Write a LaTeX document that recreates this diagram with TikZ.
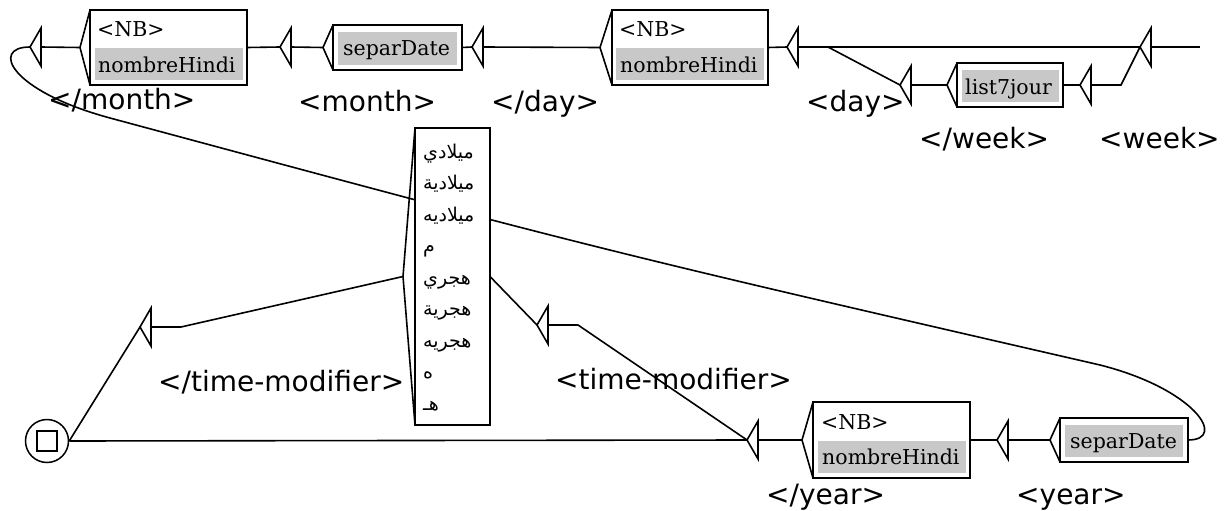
\documentclass[tikz,border=0pt]{standalone}
\usepackage{fontspec}
\TeXXeTstate=1
\newfontfamily\LabFont{DejaVu Sans}
\newfontfamily\BoxFont{DejaVu Serif}
\newfontfamily\ArFont[Script=Arabic]{DejaVu Sans}
\definecolor{hlgray}{RGB}{200,200,200}
\newcommand\EpsBox[3]{%
  \coordinate (#1-out) at (#2,#3);
  \coordinate (#1-in) at ([xshift=11pt]#1-out);
  \draw[wire] ([shift={(11,-19)}]#1-out) -- (#1-out) -- ([shift={(11,19)}]#1-out) -- cycle;}
\begin{document}
\begin{tikzpicture}[x=1pt,y=-1pt,
  wire/.style={line width=1.6pt},
  frame/.style={draw, line width=2pt, fill=white, inner sep=0pt, outer sep=0pt, anchor=north west},
  boxtxt/.style={anchor=base west, inner sep=0pt, font=\BoxFont\fontsize{20.5}{24}\selectfont},
  outlbl/.style={anchor=base west, inner sep=0pt, font=\LabFont\fontsize{28}{30}\selectfont},
  artxt/.style={anchor=base west, inner sep=0pt, font=\ArFont\fontsize{19}{22}\selectfont}]
\useasboundingbox[fill=white] (0,0) rectangle (1229,511);

% ---------- epsilon boxes (triangles) ----------
\EpsBox{init}{1140}{47}
\coordinate (inittail) at (1200,47);
\EpsBox{weekS}{1080}{85}
\EpsBox{weekE}{900}{85}
\EpsBox{dayS}{787}{47}
\EpsBox{dayE}{472}{47}
\EpsBox{monthS}{280}{47}
\EpsBox{monthE}{30}{47}
\EpsBox{yearS}{997}{440}
\EpsBox{yearE}{747}{440}
\EpsBox{tmS}{537}{325}
\EpsBox{tmE}{140}{327}

% ---------- boxes ----------
% list7jour
\node[frame, minimum width=106pt, minimum height=44pt] (l7j) at (957,63) {};
\coordinate (l7j-out) at ([xshift=-10pt]l7j.west);
\draw[wire] (l7j.north west) -- (l7j-out) -- (l7j.south west);
\fill[hlgray] (962,70) rectangle (1059,102);
\node[boxtxt] (l7jt) at (965,94) {list7jour};

% NB box 2
\node[frame, minimum width=156pt, minimum height=75pt] (nb2) at (612,10) {};
\coordinate (nb2-out) at ([xshift=-12pt]nb2.west);
\draw[wire] (nb2.north west) -- (nb2-out) -- (nb2.south west);
\fill[hlgray] (616,48) rectangle (764,80);
\node[boxtxt] (nb2a) at (619,37) {<NB>};
\node[boxtxt] (nb2b) at (620,73) {nombreHindi};

% separDate 1
\node[frame, minimum width=129pt, minimum height=45pt] (sd1) at (333,25) {};
\coordinate (sd1-out) at ([xshift=-10pt]sd1.west);
\draw[wire] (sd1.north west) -- (sd1-out) -- (sd1.south west);
\fill[hlgray] (338,32) rectangle (457,65);
\node[boxtxt] (sd1t) at (343,56) {separDate};

% NB box 1
\node[frame, minimum width=157pt, minimum height=75pt] (nb1) at (90,10) {};
\coordinate (nb1-out) at ([xshift=-10pt]nb1.west);
\draw[wire] (nb1.north west) -- (nb1-out) -- (nb1.south west);
\fill[hlgray] (95,48) rectangle (243,80);
\node[boxtxt] (nb1a) at (97,37) {<NB>};
\node[boxtxt] (nb1b) at (98,73) {nombreHindi};

% separDate 2
\node[frame, minimum width=128pt, minimum height=44pt] (sd2) at (1060,418) {};
\coordinate (sd2-out) at ([xshift=-10pt]sd2.west);
\draw[wire] (sd2.north west) -- (sd2-out) -- (sd2.south west);
\fill[hlgray] (1065,425) rectangle (1183,457);
\node[boxtxt] (sd2t) at (1070,448) {separDate};

% NB box 3
\node[frame, minimum width=157pt, minimum height=76pt] (nb3) at (813,402) {};
\coordinate (nb3-out) at ([xshift=-11pt]nb3.west);
\draw[wire] (nb3.north west) -- (nb3-out) -- (nb3.south west);
\fill[hlgray] (818,441) rectangle (966,473);
\node[boxtxt] (nb3a) at (821,429) {<NB>};
\node[boxtxt] (nb3b) at (822,464) {nombreHindi};

% final state
\node[circle, draw, line width=1.5pt, minimum size=43pt, inner sep=0pt, fill=white] (fin) at (47,441) {};
\node[draw, line width=1.5pt, minimum size=20pt, inner sep=0pt] (finsq) at (fin.center) {};

% ---------- output labels ----------
\node[outlbl] (L1) at (48,109) {</month>};
\node[outlbl] (L2) at (298,111) {<month>};
\node[outlbl] (L3) at (491,111) {</day>};
\node[outlbl] (L4) at (806,111) {<day>};
\node[outlbl] (L5) at (919,148) {</week>};
\node[outlbl] (L6) at (1099,148) {<week>};
\node[outlbl] (L7) at (158,391) {</time-modifier>};
\node[outlbl] (L8) at (555,389) {<time-modifier>};
\node[outlbl] (L9) at (766,504) {</year>};
\node[outlbl] (L10) at (1016,504) {<year>};

% ---------- connectors ----------
\draw[wire] (init-in) -- (inittail);
\draw[wire] (init-out) -- (dayS-in);
\draw[wire] (init-out) -- ([xshift=30pt]weekS-in) -- (weekS-in);
\draw[wire] (weekS-out) -- (l7j.east);
\draw[wire] (l7j-out) -- (weekE-in);
\draw[wire] (weekE-out) -- ([xshift=30pt]dayS-in) -- (dayS-in);
\draw[wire] (dayS-out) -- (nb2.east);
\draw[wire] (nb2-out) -- (dayE-in);
\draw[wire] (dayE-out) -- (sd1.east);
\draw[wire] (sd1-out) -- (monthS-in);
\draw[wire] (monthS-out) -- (nb1.east);
\draw[wire] (nb1-out) -- (monthE-in);
\coordinate (c1) at (110,118);
\coordinate (c2) at (1100,365);
\draw[wire] (monthE-out) .. controls (-10,47) and (10,91) .. (c1)
  .. controls (600,250) .. (c2)
  .. controls (1195,389) and (1228,440) .. (sd2.east);
\draw[wire] (sd2-out) -- (yearS-in);
\draw[wire] (yearS-out) -- (nb3.east);
\draw[wire] (nb3-out) -- (yearE-in);
\draw[wire] (yearE-out) -- (fin.east);
\draw[wire] (yearE-out) -- ([xshift=30pt]tmS-in) -- (tmS-in);

% Arabic box (drawn over the long curve)
\node[frame, minimum width=75pt, minimum height=297pt] (arab) at (415,128) {};
\coordinate (arab-out) at ([xshift=-12pt]arab.west);
\draw[wire] (arab.north west) -- (arab-out) -- (arab.south west);
\node[artxt] (a1) at (423,158) {\beginR ميلادي\endR};
\node[artxt] (a2) at (423,189.5) {\beginR ميلادية\endR};
\node[artxt] (a3) at (423,221) {\beginR ميلاديه\endR};
\node[artxt] (a4) at (423,252.5) {\beginR م\endR};
\node[artxt] (a5) at (423,284) {\beginR هجري\endR};
\node[artxt] (a6) at (423,315.5) {\beginR هجرية\endR};
\node[artxt] (a7) at (423,347) {\beginR هجريه\endR};
\node[artxt] (a8) at (423,378.5) {\beginR ه\endR};
\node[artxt] (a9) at (423,410) {\beginR هـ\endR};

\draw[wire] (tmS-out) -- (arab.east);
\draw[wire] (arab-out) -- ([xshift=30pt]tmE-in) -- (tmE-in);
\draw[wire] (tmE-out) -- (fin.east);
\end{tikzpicture}
\end{document}
